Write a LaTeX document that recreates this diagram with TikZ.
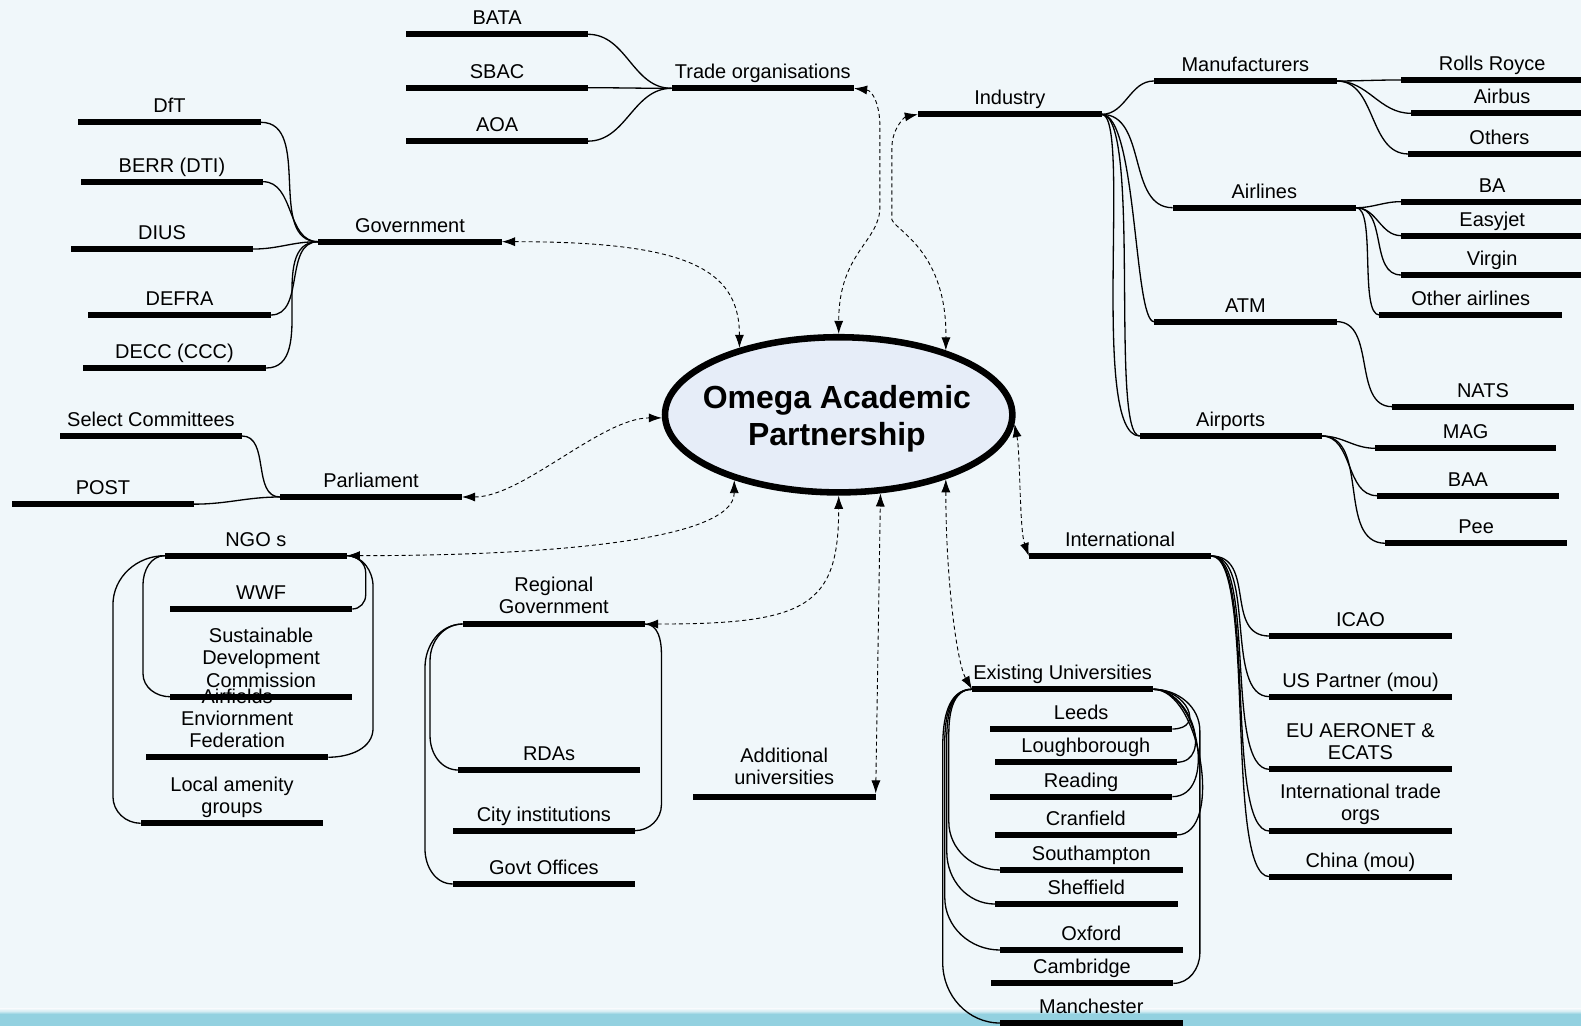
\documentclass[tikz,border=0pt]{standalone}
\usepackage{fontspec}
\setmainfont{Liberation Sans}
\usetikzlibrary{shapes.geometric,arrows.meta}
\definecolor{bgc}{RGB}{240,247,250}
\definecolor{bandc}{RGB}{147,209,224}
\definecolor{bandl}{RGB}{208,234,241}
\definecolor{ellc}{RGB}{230,237,248}
\newcommand{\barnode}[6][0]{%
  \node[lblsty] (#2t) at ({(#3+#4)/2},{#5-2.9-#1}) {#6\strut};
  \node[barsty, minimum width={#4-#3}] (#2) at ({(#3+#4)/2},#5) {};
}
\begin{document}
\begin{tikzpicture}[x=1pt,y=-1pt,
  barsty/.style={rectangle, fill=black, inner sep=0pt, outer sep=0pt, minimum height=6pt},
  lblsty/.style={anchor=south, inner sep=0pt, outer sep=0pt, align=center, font=\fontsize{19.8}{22}\selectfont},
  lnk/.style={draw=black, line width=1.3pt},
  dlnk/.style={draw=black, line width=0.9pt, dash pattern=on 4pt off 3pt,
    arrows={Latex[length=13pt,width=9pt]-Latex[length=13pt,width=9pt]}},
  titlesty/.style={inner sep=0pt, align=center, font=\fontsize{31.7}{36.4}\selectfont\bfseries}
]
\useasboundingbox (0,0) rectangle (1568,1017.5);
\clip (0,0) rectangle (1568,1017.5);
% background
\fill[bgc] (0,0) rectangle (1568,1017.5);
\shade[top color=bgc, bottom color=bandl] (0,1000.5) rectangle (1568,1003);
\shade[top color=bandl, bottom color=bandc] (0,1003) rectangle (1568,1005.6);
\fill[bandc] (0,1005.6) rectangle (1568,1017.5);

% central ellipse
\node[ellipse, draw=black, line width=6.5pt, fill=ellc, minimum width=344.5pt, minimum height=153.9pt, inner sep=0pt] (oap) at (831.8,411.4) {};
\node[titlesty] (oapT) at (830,415) {Omega Academic\\Partnership};

% trade organisations
\barnode{bata}{403}{583}{34}{BATA}
\barnode{sbac}{403}{583}{87}{SBAC}
\barnode{aoa}{403}{583}{140}{AOA}
\barnode{trade}{666}{847}{87.6}{Trade organisations}
% government
\barnode{govt}{315.4}{497.8}{239.7}{Government}
\barnode{dft}{77.4}{258.8}{121.3}{DfT}
\barnode{berr}{80.3}{260.8}{180.2}{BERR (DTI)}
\barnode{dius}{70.4}{250.9}{247}{DIUS}
\barnode{defra}{87.3}{268.8}{312.4}{DEFRA}
\barnode{decc}{82.3}{263.8}{365}{DECC (CCC)}
% parliament
\barnode{selc}{59.5}{240}{432.4}{Select Committees}
\barnode{post}{11.9}{192.4}{500}{POST}
\barnode{parl}{277.7}{458.2}{492.9}{Parliament}
% NGOs
\barnode{ngo}{163.6}{343.8}{551.1}{NGO s}
\barnode{wwf}{168.6}{349.4}{604}{WWF}
\barnode{afe}{144.8}{325.6}{751}{Airfields\\Enviornment\\Federation}
\barnode{sdc}{168.6}{349.4}{691}{Sustainable\\Development\\Commission}
\barnode{lag}{139.5}{320.7}{816.5}{Local amenity\\groups}
% regional government
\barnode[1]{rg}{458.9}{639.7}{618.9}{Regional\\Government}
\barnode{rda}{454.5}{634.7}{763.7}{RDAs}
\barnode{city}{449}{629.8}{823.8}{City institutions}
\barnode{gof}{449}{629.8}{876.7}{Govt Offices}
% additional universities
\barnode[2.1]{addu}{687}{868.5}{790}{Additional\\universities}
% industry
\barnode{ind}{910.4}{1092.6}{113.4}{Industry}
\barnode{manu}{1144.5}{1325.7}{80.3}{Manufacturers}
\barnode{rr}{1389.5}{1570.3}{79.3}{Rolls Royce}
\barnode{airbus}{1399.4}{1580.2}{112.4}{Airbus}
\barnode{others}{1396.7}{1577.5}{152.7}{Others}
\barnode{airl}{1163}{1344.9}{206}{Airlines}
\barnode{ba}{1389.5}{1570.3}{200}{BA}
\barnode{easy}{1389.5}{1570.3}{233.7}{Easyjet}
\barnode{virg}{1389.5}{1570.3}{272.7}{Virgin}
\barnode{oth}{1368}{1549.4}{312.4}{Other airlines}
\barnode{atm}{1144.5}{1325.7}{319}{ATM}
\barnode{nats}{1380.5}{1561}{403.3}{NATS}
\barnode{airp}{1130.3}{1310.7}{432.4}{Airports}
\barnode{mag}{1363.7}{1543.6}{444.6}{MAG}
\barnode{baa}{1365.7}{1546}{491.6}{BAA}
\barnode{pee}{1373.9}{1554}{538.8}{Pee}
% international
\barnode{intl}{1020.4}{1201.2}{551.4}{International}
\barnode{icao}{1258.9}{1439.7}{630.8}{ICAO}
\barnode{usp}{1258.9}{1439.7}{690.9}{US Partner (mou)}
\barnode{euae}{1258.9}{1439.7}{763}{EU AERONET \&\\ECATS}
\barnode[1]{itr}{1258.9}{1439.7}{824.2}{International trade\\orgs}
\barnode{china}{1258.9}{1439.7}{869.4}{China (mou)}
% existing universities
\barnode{eu}{964}{1143.8}{683.6}{Existing Universities}
\barnode{leeds}{981.8}{1162.7}{723}{Leeds}
\barnode{lough}{986.8}{1167}{756}{Loughborough}
\barnode{read}{981.8}{1162.7}{790.1}{Reading}
\barnode{cran}{986.8}{1167}{828.1}{Cranfield}
\barnode{soton}{991.8}{1172.9}{862.8}{Southampton}
\barnode{sheff}{986.8}{1168}{896.6}{Sheffield}
\barnode{oxf}{991.8}{1172.9}{942.2}{Oxford}
\barnode{cam}{982.5}{1163.7}{975.3}{Cambridge}
\barnode{manc}{991.8}{1172.9}{1014.6}{Manchester}

% ---- solid links ----
\foreach \n in {bata,sbac,aoa} \draw[lnk] (trade.west) to[out=180,in=0] (\n.east);
\foreach \n in {dft,berr,dius,defra,decc} \draw[lnk] (govt.west) to[out=180,in=0] (\n.east);
\foreach \n in {selc,post} \draw[lnk] (parl.west) to[out=180,in=0] (\n.east);

\draw[lnk] (ind.east) to[out=0,in=180] (manu.west);
\draw[lnk] (ind.east) to[out=0,in=180] (airl.west);
\draw[lnk] (ind.east) to[out=0,in=180,out distance=35pt,in distance=20pt] (atm.west);
\draw[lnk] (ind.east) to[out=0,in=180,out distance=30pt,in distance=50pt] (airp.west);
\draw[lnk] (ind.east) to[out=0,in=180,out distance=40pt,in distance=30pt] (airp.west);
\foreach \n in {rr,airbus,others} \draw[lnk] (manu.east) to[out=0,in=180] (\n.west);
\foreach \n in {ba,easy,virg} \draw[lnk] (airl.east) to[out=0,in=180] (\n.west);
\draw[lnk] (airl.east) to[out=0,in=180,out distance=20pt,in distance=20pt] (oth.west);
\draw[lnk] (atm.east) to[out=0,in=180] (nats.west);
\foreach \n in {mag,baa,pee} \draw[lnk] (airp.east) to[out=0,in=180] (\n.west);
\foreach \n in {icao,usp,euae,itr,china} \draw[lnk] (intl.east) to[out=0,in=180,out distance=45pt,in distance=45pt] (\n.west);

% universities
\draw[lnk] (eu.east) to[out=0,in=0,out distance=33pt,in distance=33pt] (leeds.east);
\draw[lnk] (eu.east) to[out=0,in=0,out distance=37pt,in distance=37pt] (lough.east);
\draw[lnk] (eu.east) to[out=0,in=0,out distance=45pt,in distance=45pt] (read.east);
\draw[lnk] (eu.east) to[out=0,in=0,out distance=47pt,in distance=47pt] (cran.east);
\draw[lnk] (eu.west) to[out=180,in=90] (941,728) -- (941,815) to[out=-90,in=180] (soton.west);
\draw[lnk] (eu.west) to[out=180,in=90] (939,732) -- (939,845) to[out=-90,in=180] (sheff.west);
\draw[lnk] (eu.west) to[out=180,in=90] (937,736) -- (937,890) to[out=-90,in=180] (oxf.west);
\draw[lnk] (eu.west) to[out=180,in=90] (935,740) -- (935,955) to[out=-90,in=180] (manc.west);
\draw[lnk] (eu.east) to[out=0,in=90] (1190,725) -- (1190,945) to[out=-90,in=0] (cam.east);

% regional government
\draw[lnk] (rg.west) to[out=180,in=90] (426.5,655) -- (426.5,730) to[out=-90,in=180] (rda.west);
\draw[lnk] (rg.west) to[out=180,in=90] (421.5,662) -- (421.5,842) to[out=-90,in=180] (gof.west);
\draw[lnk] (rg.east) to[out=0,in=90] (656,648) -- (656,798) to[out=-90,in=0] (city.east);

% NGOs
\draw[lnk] (ngo.west) to[out=180,in=90] (141.8,580) -- (141.8,668) to[out=-90,in=180] (sdc.west);
\draw[lnk] (ngo.west) to[out=180,in=90] (112,600) -- (112,790) to[out=-90,in=180] (lag.west);
\draw[lnk] (ngo.east) to[out=0,in=90] (362.7,568) -- (362.7,590) to[out=-90,in=0] (wwf.east);
\draw[lnk] (ngo.east) to[out=0,in=90] (370,582) -- (370,722) to[out=-90,in=0] (afe.east);

% ---- dashed two-way links to the partnership ----
\draw[dlnk] (govt.east) to[out=0,in=90,out distance=180pt,in distance=80pt] (oap.146);
\draw[dlnk] (trade.east) .. controls (866,90) and (872.7,105) .. (872.7,126) -- (872.7,205) .. controls (872.7,240) and (831.8,250) .. (oap.90);
\draw[dlnk] (ind.west) .. controls (897,116) and (884.6,128) .. (884.6,146) -- (884.6,218) .. controls (890,230) and (939,250) .. (oap.31);
\draw[dlnk] (parl.east) to[out=0,in=180,out distance=60pt,in distance=60pt] (oap.181);
\draw[dlnk] (ngo.east) to[out=0,in=-90,out distance=200pt,in distance=60pt] (oap.212);
\draw[dlnk] (rg.east) to[out=0,in=-90,out distance=160pt,in distance=110pt] (oap.270);
\draw[dlnk] (addu.north east) -- (oap.298);
\draw[dlnk] (oap.329) to[out=-90,in=120,out distance=100pt,in distance=30pt] (eu.west);
\draw[dlnk] (oap.357) .. controls (1012,450) and (1011,525) .. (intl.west);
\end{tikzpicture}
\end{document}
